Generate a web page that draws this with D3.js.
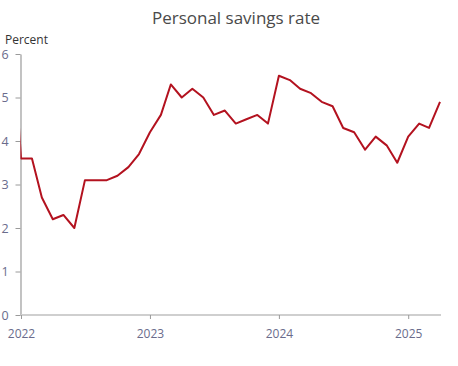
<!DOCTYPE html>
<html>
<head>
<meta charset="utf-8">
<script src="https://cdn.jsdelivr.net/npm/d3@7"></script>
<style>
  html, body { margin: 0; padding: 0; background: #fff; }
  svg { display: block; font-family: "Open Sans", sans-serif; }
</style>
</head>
<body>
<svg id="chart" width="458" height="366"></svg>
<script>
// Monthly personal savings rate (percent), Dec 2021 .. Apr 2025
const months = [
  "2021-12",
  "2022-01","2022-02","2022-03","2022-04","2022-05","2022-06","2022-07","2022-08","2022-09","2022-10","2022-11","2022-12",
  "2023-01","2023-02","2023-03","2023-04","2023-05","2023-06","2023-07","2023-08","2023-09","2023-10","2023-11","2023-12",
  "2024-01","2024-02","2024-03","2024-04","2024-05","2024-06","2024-07","2024-08","2024-09","2024-10","2024-11","2024-12",
  "2025-01","2025-02","2025-03","2025-04"
];
const savingsRate = [
  7.5,
  3.6, 3.6, 2.7, 2.2, 2.3, 2.0, 3.1, 3.1, 3.1, 3.2, 3.4, 3.7,
  4.2, 4.6, 5.3, 5.0, 5.2, 5.0, 4.6, 4.7, 4.4, 4.5, 4.6, 4.4,
  5.5, 5.4, 5.2, 5.1, 4.9, 4.8, 4.3, 4.2, 3.8, 4.1, 3.9, 3.5,
  4.1, 4.4, 4.3, 4.9
];
const yTicks = [0, 1, 2, 3, 4, 5, 6];
const xTickYears = ["2022", "2023", "2024", "2025"];
const titleText = "Personal savings rate";
const yAxisLabel = "Percent";

const parseMonth = d3.timeParse("%Y-%m");
const parseYear = d3.timeParse("%Y");
const data = months.map((m, i) => ({ date: parseMonth(m), value: savingsRate[i] }));

const svg = d3.select("#chart");
const mLeft = 21, mRight = 440, mTop = 54, mBottom = 315;
const fontFam = '"Open Sans", sans-serif';

const x = d3.scaleTime()
  .domain([parseMonth("2022-01"), parseMonth("2025-04")])
  .range([mLeft, mRight]);
const y = d3.scaleLinear().domain([0, 6]).range([mBottom, mTop]);

const labelColor = "#6a6c8c";

// Title
svg.append("text")
  .attr("x", 236).attr("y", 24)
  .attr("text-anchor", "middle")
  .attr("font-size", 17)
  .attr("fill", "#4a4a4a")
  .text(titleText);

// Y axis label
svg.append("text")
  .attr("x", 5).attr("y", 44)
  .attr("font-size", 12)
  .attr("fill", "#333")
  .text(yAxisLabel);

// Y axis
const yAxis = svg.append("g")
  .attr("transform", `translate(${mLeft - 0.5},0)`)
  .call(d3.axisLeft(y).tickValues(yTicks).tickSize(5).tickSizeOuter(0).tickPadding(0).tickFormat(d3.format("d")));
yAxis.attr("font-family", fontFam);
yAxis.select(".domain").attr("stroke", "#9a9a9a").attr("stroke-width", 1.2);
yAxis.selectAll(".tick line").attr("stroke", "#9a9a9a");
yAxis.selectAll(".tick text")
  .attr("x", -19).attr("text-anchor", "start")
  .attr("font-size", 12.5).attr("fill", labelColor);

// X axis
const xAxis = svg.append("g")
  .attr("transform", `translate(0,${mBottom})`)
  .call(d3.axisBottom(x).tickValues(xTickYears.map(parseYear)).tickSize(4).tickSizeOuter(0).tickPadding(10).tickFormat(d3.timeFormat("%Y")));
xAxis.attr("font-family", fontFam);
xAxis.select(".domain").attr("stroke", "#cfcfcf").attr("stroke-width", 2)
  .attr("d", `M${mLeft},0H${mRight + 1}`);
xAxis.selectAll(".tick line").attr("stroke", "#9a9a9a");
xAxis.selectAll(".tick text").attr("font-size", 12).attr("fill", labelColor);

// Clip
svg.append("clipPath").attr("id", "plotclip")
  .append("rect").attr("x", mLeft - 0.6).attr("y", 0).attr("width", mRight - mLeft + 10).attr("height", mBottom + 5);

// Line
const line = d3.line().x(d => x(d.date)).y(d => y(d.value));
svg.append("path")
  .datum(data)
  .attr("clip-path", "url(#plotclip)")
  .attr("fill", "none")
  .attr("stroke", "#b3121f")
  .attr("stroke-width", 2)
  .attr("stroke-linejoin", "round")
  .attr("d", line);
</script>
</body>
</html>
